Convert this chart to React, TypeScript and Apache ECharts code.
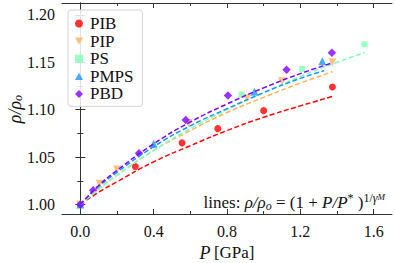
import React, { useEffect, useRef } from "react";
import * as echarts from "echarts";

const names = ["PIB", "PIP", "PS", "PMPS", "PBD"];

// measured points (P in GPa, rho/rho0)
const pibP = [0, 0.30, 0.555, 0.75, 1.0, 1.375];
const pibR = [1.0, 1.040, 1.065, 1.080, 1.099, 1.124];
const pipP = [0, 0.105, 0.20, 0.59, 0.91, 1.10, 1.375];
const pipR = [1.0, 1.022, 1.037, 1.086, 1.112, 1.130, 1.150];
const psP = [0, 0.88, 1.21, 1.55];
const psR = [1.0, 1.116, 1.143, 1.169];
const pmpsP = [0, 0.40, 0.95, 1.32];
const pmpsR = [1.0, 1.064, 1.119, 1.151];
const pbdP = [0, 0.07, 0.32, 0.575, 0.805, 1.125, 1.372];
const pbdR = [1.0, 1.015, 1.054, 1.089, 1.115, 1.142, 1.160];

// fitted lines
const pibFitP = [0, 0.1, 0.2, 0.4, 0.6, 0.8, 1.0, 1.2, 1.375];
const pibFitR = [1.0, 1.013, 1.024, 1.045, 1.062, 1.078, 1.092, 1.104, 1.114];
const pipFitP = [0, 0.1, 0.2, 0.4, 0.6, 0.8, 1.0, 1.2, 1.375];
const pipFitR = [1.0, 1.017, 1.031, 1.057, 1.078, 1.097, 1.113, 1.128, 1.140];
const psFitP = [0, 0.1, 0.2, 0.4, 0.6, 0.8, 1.0, 1.2, 1.4, 1.55];
const psFitR = [1.0, 1.016, 1.031, 1.057, 1.080, 1.100, 1.118, 1.135, 1.150, 1.160];
const pmpsFitP = [0, 0.1, 0.2, 0.4, 0.6, 0.8, 1.0, 1.2, 1.33];
const pmpsFitR = [1.0, 1.019, 1.034, 1.061, 1.083, 1.101, 1.118, 1.133, 1.141];
const pbdFitP = [0, 0.1, 0.2, 0.4, 0.6, 0.8, 1.0, 1.2, 1.37];
const pbdFitR = [1.0, 1.020, 1.036, 1.064, 1.087, 1.106, 1.123, 1.138, 1.149];

const xMajor = [0, 0.4, 0.8, 1.2, 1.6];
const xMinor = [0.2, 0.6, 1.0, 1.4];
const yMajor = [1.0, 1.05, 1.1, 1.15, 1.2];
const yMinor = [1.025, 1.075, 1.125, 1.175];

const colors = ["#ff0000", "#ffb360", "#80ffb4", "#1996f3", "#8000ff"];
const triDown = "path://M0,0 L10,0 L5,9 Z";
const triUp = "path://M5,0 L10,9 L0,9 Z";
const diamond = "path://M5,0 L10,5 L5,10 L0,5 Z";
const symbols = ["circle", triDown, "rect", triUp, diamond];
const sizes = [7, 8, 6, 8, 8.5];

const FONT = "Liberation Serif";
const AX = "#333";

const pts = [
  [pibP, pibR],
  [pipP, pipR],
  [psP, psR],
  [pmpsP, pmpsR],
  [pbdP, pbdR],
];
const fits = [
  [pibFitP, pibFitR],
  [pipFitP, pipFitR],
  [psFitP, psFitR],
  [pmpsFitP, pmpsFitR],
  [pbdFitP, pbdFitR],
];

const zip = (a: number[], b: number[]) => a.map((v, i) => [v, b[i]]);

export default function App() {
  const ref = useRef<HTMLDivElement>(null);
  useEffect(() => {
    const chart = echarts.init(ref.current!, null, { renderer: "svg" });

    const xBase = { type: "value", min: -0.1, max: 1.7, splitLine: { show: false }, gridIndex: 0 };
    const yBase = { type: "value", min: 0.99, max: 1.2125, splitLine: { show: false }, gridIndex: 0 };
    const line = { show: true, lineStyle: { color: AX, width: 1 } };
    const noLine = { show: false };
    const lbl = (vals: number[], digits: number, margin: number) => ({
      show: true,
      customValues: vals,
      formatter: (v: number) => v.toFixed(digits),
      fontFamily: FONT,
      fontSize: 16,
      color: "#111",
      margin,
    });
    const tick = (vals: number[], len: number) => ({
      show: true,
      inside: true,
      length: len,
      customValues: vals,
      lineStyle: { color: AX, width: 1 },
    });

    const series: any[] = [];
    names.forEach((n, i) => {
      series.push({
        type: "scatter",
        name: n,
        data: zip(pts[i][0], pts[i][1]),
        symbol: symbols[i],
        symbolSize: sizes[i],
        itemStyle: { color: colors[i] },
        xAxisIndex: 0,
        yAxisIndex: 0,
      });
      series.push({
        type: "line",
        name: n + " fit",
        data: zip(fits[i][0], fits[i][1]),
        smooth: true,
        showSymbol: false,
        symbol: "none",
        lineStyle: { color: colors[i], width: 1.5, type: [5, 2.5] },
        xAxisIndex: 0,
        yAxisIndex: 0,
      });
    });

    const option: any = {
      animation: false,
      grid: { left: 62, right: 3, top: 3, bottom: 49, containLabel: false, outerBoundsMode: "none" },
      legend: {
        orient: "vertical",
        left: 68,
        top: 10,
        padding: [5, 9, 4, 7],
        itemWidth: 8,
        itemHeight: 8,
        itemGap: 0.6,
        backgroundColor: "rgba(255,255,255,0.85)",
        borderColor: "#d4d4d4",
        borderWidth: 1,
        borderRadius: 3,
        textStyle: { fontFamily: FONT, fontSize: 17, color: "#111", padding: [0, 0, 0, 2] },
        data: names.map((n, i) => ({ name: n, icon: symbols[i], itemStyle: { color: colors[i] } })),
      },
      xAxis: [
        {
          ...xBase,
          position: "bottom",
          axisLine: line,
          axisTick: tick(xMajor, 5),
          axisLabel: lbl(xMajor, 1, 9),
          name: "{i|P} {r|[GPa]}",
          nameLocation: "middle",
          nameGap: 23,
          nameTextStyle: {
            rich: {
              i: { fontFamily: FONT, fontStyle: "italic", fontSize: 18, color: "#111" },
              r: { fontFamily: FONT, fontSize: 17, color: "#111" },
            },
          },
        },
        { ...xBase, position: "bottom", axisLine: noLine, axisTick: tick(xMinor, 3), axisLabel: { show: false } },
        { ...xBase, position: "top", axisLine: line, axisTick: tick(xMajor, 5), axisLabel: { show: false } },
        { ...xBase, position: "top", axisLine: noLine, axisTick: tick(xMinor, 3), axisLabel: { show: false } },
      ],
      yAxis: [
        {
          ...yBase,
          position: "left",
          axisLine: line,
          axisTick: tick(yMajor, 5),
          axisLabel: lbl(yMajor, 2, 7),
        },
        { ...yBase, position: "left", axisLine: noLine, axisTick: tick(yMinor, 3), axisLabel: { show: false } },
        { ...yBase, position: "right", axisLine: line, axisTick: tick(yMajor, 5), axisLabel: { show: false } },
        { ...yBase, position: "right", axisLine: noLine, axisTick: tick(yMinor, 3), axisLabel: { show: false } },
      ],
      series,
      graphic: [
        {
          type: "text",
          x: 15,
          y: 109,
          rotation: Math.PI / 2,
          style: {
            text: "{i|ρ/ρ}{sub|o}",
            align: "center",
            verticalAlign: "middle",
            rich: {
              i: { fontFamily: FONT, fontStyle: "italic", fontSize: 18, fill: "#111", lineHeight: 17 },
              sub: { fontFamily: FONT, fontStyle: "italic", fontSize: 12, fill: "#111", verticalAlign: "bottom", lineHeight: 12 },
            },
          },
        },
        {
          type: "text",
          x: 385,
          y: 202,
          style: {
            text: "{r|lines: }{i|ρ/ρ}{sub|o}{r| = (1 + }{i|P/P}{sup|*}{r| )}{sup|1/}{supi|γ}{ss|M}",
            align: "right",
            verticalAlign: "middle",
            rich: {
              r: { fontFamily: FONT, fontSize: 17, fill: "#111", lineHeight: 20 },
              i: { fontFamily: FONT, fontStyle: "italic", fontSize: 17, fill: "#111", lineHeight: 20 },
              sub: { fontFamily: FONT, fontStyle: "italic", fontSize: 12, fill: "#111", verticalAlign: "bottom", lineHeight: 14 },
              sup: { fontFamily: FONT, fontSize: 12, fill: "#111", verticalAlign: "top", lineHeight: 11 },
              supi: { fontFamily: FONT, fontStyle: "italic", fontSize: 12, fill: "#111", verticalAlign: "top", lineHeight: 11 },
              ss: { fontFamily: FONT, fontStyle: "italic", fontSize: 9, fill: "#111", verticalAlign: "top", lineHeight: 19 },
            },
          },
        },
      ],
    };
    chart.setOption(option);
    return () => chart.dispose();
  }, []);
  return <div ref={ref} style={{ width: 395, height: 263, position: "absolute", left: 0, top: 0 }} />;
}
